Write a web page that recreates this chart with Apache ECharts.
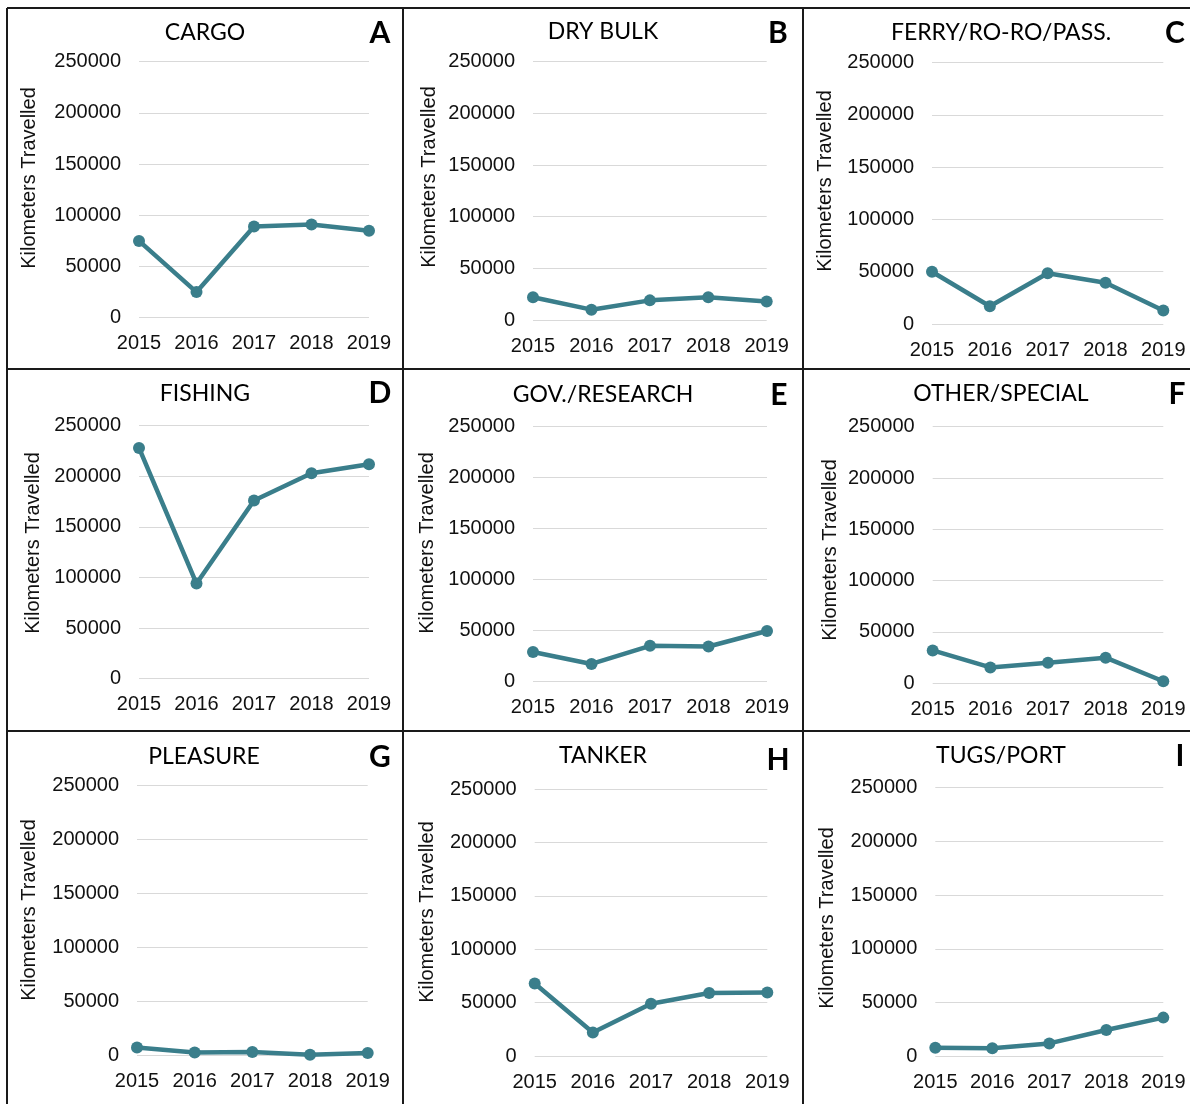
<!DOCTYPE html>
<html><head><meta charset="utf-8">
<script src="https://cdn.jsdelivr.net/npm/echarts@6/dist/echarts.min.js"></script>
<style>html,body{margin:0;padding:0;background:#fff}#c{width:1190px;height:1104px}</style>
</head><body><div id="c"></div>
<script>
// ---- data ----
const years = ['2015', '2016', '2017', '2018', '2019'];
const yTicks = [0, 50000, 100000, 150000, 200000, 250000];
const panelTitles = ['CARGO', 'DRY BULK', 'FERRY/RO-RO/PASS.', 'FISHING', 'GOV./RESEARCH', 'OTHER/SPECIAL', 'PLEASURE', 'TANKER', 'TUGS/PORT'];
const panelLetters = ['A', 'B', 'C', 'D', 'E', 'F', 'G', 'H', 'I'];
const yAxisName = 'Kilometers Travelled';
const cargo = [75000, 25000, 89000, 91000, 85000];
const dryBulk = [22000, 10000, 19000, 22000, 18000];
const ferry = [50000, 17000, 48500, 39500, 13000];
const fishing = [228000, 94000, 176000, 203000, 212000];
const govResearch = [28500, 16700, 34500, 33800, 49000];
const otherSpecial = [32000, 15500, 20000, 25000, 2000];
const pleasure = [7500, 3000, 3500, 800, 2500];
const tanker = [68000, 22000, 49000, 59000, 59500];
const tugsPort = [8000, 7500, 12000, 24500, 36000];
const panelSeries = [cargo, dryBulk, ferry, fishing, govResearch, otherSpecial, pleasure, tanker, tugsPort];

// ---- layout ----
const gridRects = [
  [139, 61.7, 230, 256], [533, 61.7, 233.7, 258.3], [932, 62.7, 231.3, 261.3],
  [139, 425.7, 230, 253], [533, 426, 234, 255], [932.7, 426.7, 230.6, 256.6],
  [137, 785.7, 230.7, 270], [534.7, 789.3, 232.6, 266.7], [935.3, 787.7, 228, 268.6]
];
const titlePos = [[205, 33], [603, 32], [1001, 33], [205, 394], [603, 395], [1001, 394], [204, 757], [603, 756], [1001, 756]];
const letterPos = [[380, 33], [778, 33], [1175, 33], [380, 393], [779, 395], [1177, 394], [380, 757], [778, 760], [1180, 756]];
const yNamePos = [[29, 178], [429, 177], [825, 181], [33, 543], [427, 543], [830, 550], [29, 910], [427, 912], [827, 918]];

const LINE = '#3a7e8b';
const AXFONT = '"Liberation Sans", Arial, sans-serif';
const TFONT = 'Lato, "Open Sans", sans-serif';

const grid = [], xAxis = [], yAxis = [], series = [], graphic = [];
panelSeries.forEach((vals, i) => {
  const r = gridRects[i];
  grid.push({ left: r[0], top: r[1], width: r[2], height: r[3], containLabel: false });
  xAxis.push({
    type: 'category', gridIndex: i, data: years, boundaryGap: false,
    axisLine: { show: false }, axisTick: { show: false },
    axisLabel: { margin: 16, fontSize: 20, color: '#111', fontFamily: AXFONT, interval: 0 },
    splitLine: { show: false }
  });
  yAxis.push({
    type: 'value', gridIndex: i, min: yTicks[0], max: yTicks[yTicks.length - 1],
    interval: yTicks[1] - yTicks[0],
    axisLine: { show: false }, axisTick: { show: false },
    axisLabel: { margin: 18, fontSize: 20, color: '#111', fontFamily: AXFONT, formatter: v => String(v) },
    splitLine: { show: true, lineStyle: { color: '#d9d9d9', width: 1 } }
  });
  series.push({
    type: 'line', name: panelTitles[i], xAxisIndex: i, yAxisIndex: i, data: vals,
    symbol: 'circle', symbolSize: 12, showSymbol: true,
    lineStyle: { color: LINE, width: 4.5 }, itemStyle: { color: LINE },
    silent: true
  });
  graphic.push({
    type: 'text', x: titlePos[i][0], y: titlePos[i][1],
    style: { text: panelTitles[i], fontFamily: TFONT, fontSize: 23, fill: '#000', align: 'center', verticalAlign: 'middle' }
  });
  graphic.push({
    type: 'text', x: letterPos[i][0], y: letterPos[i][1],
    style: { text: panelLetters[i], fontFamily: TFONT, fontSize: 30, fontWeight: 'bold', fill: '#000', align: 'center', verticalAlign: 'middle' }
  });
  graphic.push({
    type: 'text', x: yNamePos[i][0], y: yNamePos[i][1], rotation: Math.PI / 2,
    style: { text: yAxisName, fontFamily: AXFONT, fontSize: 20, fill: '#111', align: 'center', verticalAlign: 'middle' }
  });
});

// panel borders
const borderStyle = { stroke: '#1a1a1a', lineWidth: 2 };
[[7, 8, 1190, 8], [7, 369, 1190, 369], [7, 731, 1190, 731],
 [7, 8, 7, 1104], [403, 8, 403, 1104], [803, 8, 803, 1104]].forEach(s => {
  graphic.push({ type: 'line', shape: { x1: s[0], y1: s[1], x2: s[2], y2: s[3] }, style: borderStyle, silent: true });
});

const chart = echarts.init(document.getElementById('c'), null, { renderer: 'canvas' });
chart.setOption({
  animation: false,
  backgroundColor: '#fff',
  grid, xAxis, yAxis, series, graphic
});
</script>
</body></html>
